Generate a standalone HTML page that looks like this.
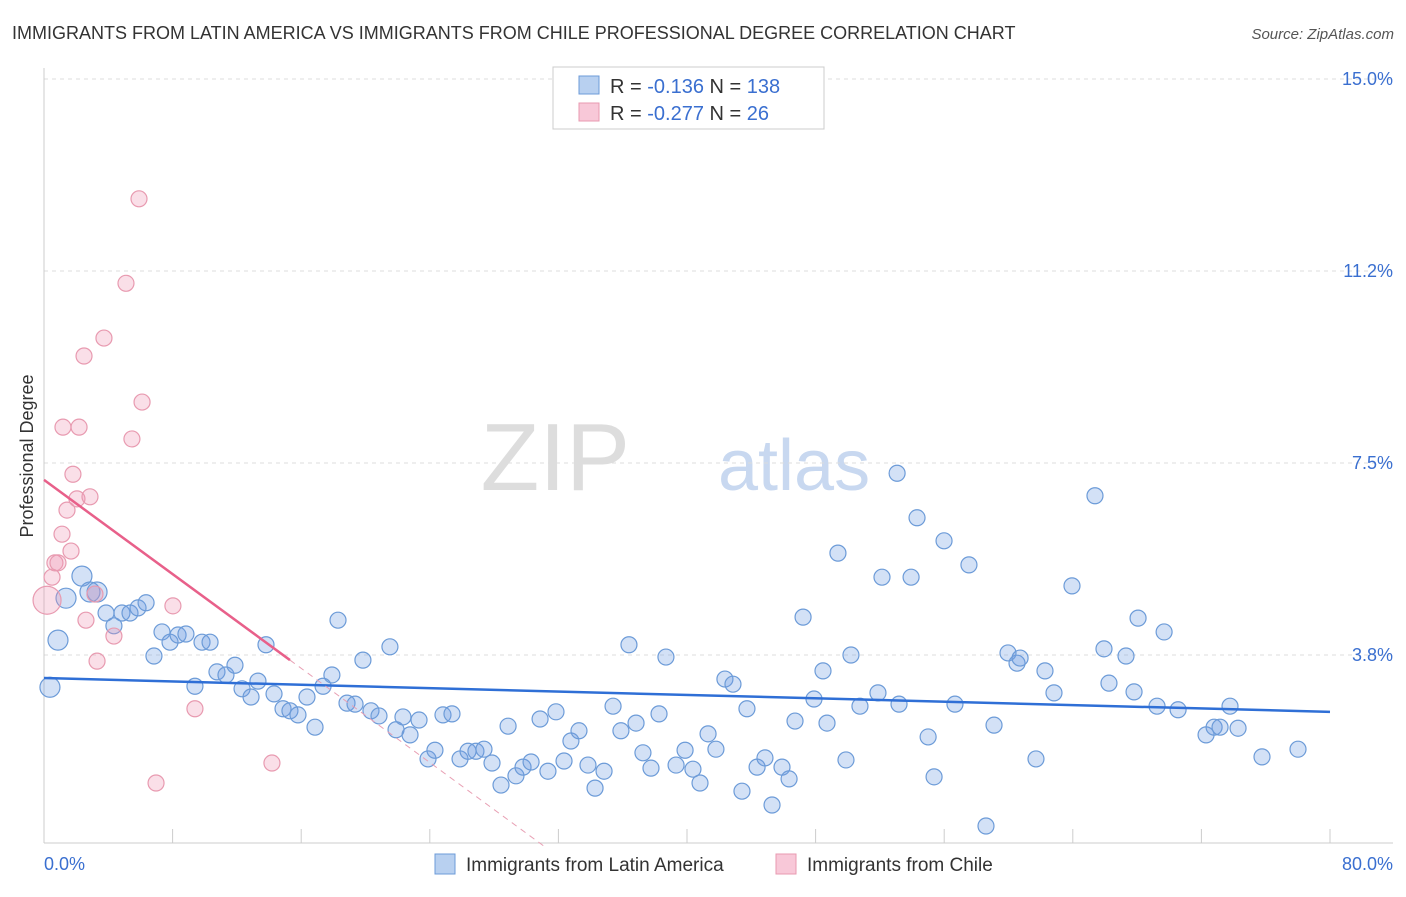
<!DOCTYPE html>
<html><head><meta charset="utf-8">
<style>
body{margin:0;background:#fff;font-family:"Liberation Sans",sans-serif;}
svg text{font-family:"Liberation Sans",sans-serif;}
</style></head>
<body>
<svg width="1406" height="892" xmlns="http://www.w3.org/2000/svg">
<text x="12" y="39" font-size="18" fill="#333">IMMIGRANTS FROM LATIN AMERICA VS IMMIGRANTS FROM CHILE PROFESSIONAL DEGREE CORRELATION CHART</text>
<text x="1394" y="39" font-size="15" fill="#555" font-style="italic" text-anchor="end">Source: ZipAtlas.com</text>
<text x="630" y="490" font-size="96" fill="#ddd" text-anchor="end" font-family="Liberation Serif">ZIP</text>
<text x="718" y="490" font-size="72" fill="#c8d8f0">atlas</text>
<g id="grid"></g>
<g id="axes"></g>
<g id="marks"></g>
<text transform="translate(33,456) rotate(-90)" font-size="18" fill="#333" text-anchor="middle">Professional Degree</text>
<g>
<rect x="553" y="67" width="271" height="62" fill="#fff" stroke="#ccc"/>
<rect x="579" y="76" width="20" height="18" fill="#b8d0f0" stroke="#6c9bd8"/>
<rect x="579" y="103" width="20" height="18" fill="#f8c8d8" stroke="#e89ab0"/>
<text x="610" y="93" font-size="20" fill="#333">R = <tspan fill="#3a6fd0">-0.136</tspan>   N = <tspan fill="#3a6fd0">138</tspan></text>
<text x="610" y="120" font-size="20" fill="#333">R = <tspan fill="#3a6fd0">-0.277</tspan>   N = <tspan fill="#3a6fd0">  26</tspan></text>
</g>
<g>
<rect x="435" y="854" width="20" height="20" fill="#b8d0f0" stroke="#6c9bd8"/>
<text x="466" y="871" font-size="19" fill="#333">Immigrants from Latin America</text>
<rect x="776" y="854" width="20" height="20" fill="#f8c8d8" stroke="#e89ab0"/>
<text x="807" y="871" font-size="19" fill="#333">Immigrants from Chile</text>
</g>
</svg>
<script>
const yTicks=[3.75,7.5,11.25,15];
const yTickLabels=["3.8%","7.5%","11.2%","15.0%"];
const xTickVals=[0,8,16,24,32,40,48,56,64,72,80];
const blueX=[0.37,0.87,1.37,2.36,2.86,3.30,3.86,4.35,4.85,5.35,5.85,6.35,6.84,7.34,7.84,8.34,8.83,9.39,9.83,10.33,10.76,11.32,11.88,12.32,12.88,13.31,13.81,14.31,14.87,15.30,15.80,16.36,16.86,17.36,17.91,18.29,18.85,19.35,19.84,20.34,20.84,21.52,21.90,22.33,22.77,23.33,23.89,24.32,24.82,25.38,25.88,26.38,26.87,27.37,27.87,28.43,28.87,29.36,29.80,30.30,30.86,31.35,31.85,32.35,32.78,33.28,33.84,34.28,34.84,35.40,35.89,36.39,36.83,37.26,37.76,38.26,38.69,39.32,39.88,40.37,40.81,41.31,41.80,42.36,42.86,43.42,43.73,44.36,44.85,45.29,45.91,46.35,46.72,47.22,47.90,48.46,48.71,49.39,49.89,50.20,50.76,51.88,52.13,53.19,53.07,53.94,54.31,55.00,55.37,55.99,56.67,57.54,58.60,59.10,59.97,60.53,60.72,61.71,62.27,62.83,63.95,65.38,65.94,66.25,67.31,67.81,68.06,69.24,69.68,70.55,72.29,72.79,73.16,73.78,74.28,75.77,78.01];
const blueY=[3.12,4.04,4.86,5.29,4.98,4.98,4.57,4.32,4.57,4.57,4.67,4.77,3.73,4.20,4.00,4.14,4.16,3.14,4.00,4.00,3.42,3.36,3.55,3.09,2.93,3.24,3.95,2.99,2.70,2.66,2.58,2.93,2.34,3.14,3.36,4.43,2.81,2.79,3.65,2.66,2.56,3.91,2.29,2.54,2.19,2.48,1.72,1.89,2.58,2.60,1.72,1.87,1.87,1.91,1.64,1.21,2.36,1.39,1.56,1.66,2.50,1.48,2.64,1.68,2.07,2.27,1.60,1.15,1.48,2.75,2.27,3.95,2.42,1.84,1.54,2.60,3.71,1.60,1.89,1.52,1.25,2.21,1.91,3.28,3.18,1.09,2.70,1.56,1.74,0.82,1.56,1.33,2.46,4.49,2.89,3.44,2.42,5.74,1.70,3.75,2.75,3.01,5.27,2.79,7.30,5.27,6.43,2.15,1.37,5.98,2.79,5.51,0.41,2.38,3.79,3.59,3.69,1.72,3.44,3.01,5.10,6.86,3.87,3.20,3.73,3.03,4.47,2.75,4.20,2.68,2.19,2.34,2.34,2.75,2.32,1.76,1.91];
const pinkX=[0.19,0.50,0.68,0.87,1.12,1.18,1.43,1.68,1.80,2.05,2.18,2.49,2.61,2.86,3.17,3.30,3.73,4.35,5.10,5.47,5.91,6.10,6.97,8.02,9.39,14.18];
const pinkY=[4.82,5.27,5.55,5.55,6.11,8.20,6.58,5.78,7.28,6.80,8.20,9.59,4.43,6.84,4.94,3.63,9.94,4.12,11.01,7.97,12.66,8.69,1.25,4.71,2.70,1.64];
const blueTrend=[3.30,2.64];
const pinkTrend=[7.17,-0.23];
const pinkSolidEnd=15.3;

const NS="http://www.w3.org/2000/svg";
const X0=44,X1=1330,Y0=847,Y15=79;
const sx=v=>X0+v/80*(X1-X0);
const sy=v=>Y0-v/15*(Y0-Y15);
function mk(tag,attrs,parent){const e=document.createElementNS(NS,tag);for(const k in attrs)e.setAttribute(k,attrs[k]);parent.appendChild(e);return e;}
const grid=document.getElementById('grid'),axes=document.getElementById('axes'),marks=document.getElementById('marks');
yTicks.forEach((t,i)=>{
 const l=mk('line',{x1:X0,x2:1393,y1:sy(t),y2:sy(t),stroke:'#ddd','stroke-dasharray':'4,4'},grid);
 
 
 const tx=mk('text',{x:1393,y:sy(t)+6,'font-size':18,fill:'#3a6fd0','text-anchor':'end'},grid);
 tx.textContent=yTickLabels[i];
 
 
});
const ax=mk('line',{x1:X0,x2:X0,y1:68,y2:843,stroke:'#ccc'},axes);


const bx=mk('line',{x1:X0,x2:1393,y1:843,y2:843,stroke:'#ccc'},axes);


xTickVals.forEach(v=>{
 const t=mk('line',{x1:sx(v),x2:sx(v),y1:829,y2:843,stroke:'#ccc'},axes);
 
 
});
const xl0=mk('text',{x:44,y:870,'font-size':18,fill:'#3a6fd0'},axes);xl0.textContent='0.0%';


const xl1=mk('text',{x:1393,y:870,'font-size':18,fill:'#3a6fd0','text-anchor':'end'},axes);xl1.textContent='80.0%';



blueX.forEach((x,i)=>{
 const c=mk('circle',{cx:sx(x),cy:sy(blueY[i]),r:i<6?10:8,fill:'rgba(110,155,225,0.3)',stroke:'#6c9bd8','stroke-width':1.2},marks);
 
 
});
pinkX.forEach((x,i)=>{
 const c=mk('circle',{cx:sx(x),cy:sy(pinkY[i]),r:i==0?14:8,fill:'rgba(240,150,180,0.3)',stroke:'#e89ab0','stroke-width':1.2},marks);
 
 
});
const bl=mk('line',{x1:sx(0),y1:sy(blueTrend[0]),x2:sx(80),y2:sy(blueTrend[1]),stroke:'#2f6fd6','stroke-width':2.5},marks);


const pz=-pinkTrend[0]/pinkTrend[1];
const pd=mk('line',{x1:sx(pinkSolidEnd),y1:sy(pinkTrend[0]+pinkTrend[1]*pinkSolidEnd),x2:sx(pz),y2:sy(0),stroke:'#e8a0b4','stroke-width':1,'stroke-dasharray':'6,5'},marks);


const pl=mk('line',{x1:sx(0),y1:sy(pinkTrend[0]),x2:sx(pinkSolidEnd),y2:sy(pinkTrend[0]+pinkTrend[1]*pinkSolidEnd),stroke:'#e8608a','stroke-width':2.5},marks);


</script>
</body></html>
